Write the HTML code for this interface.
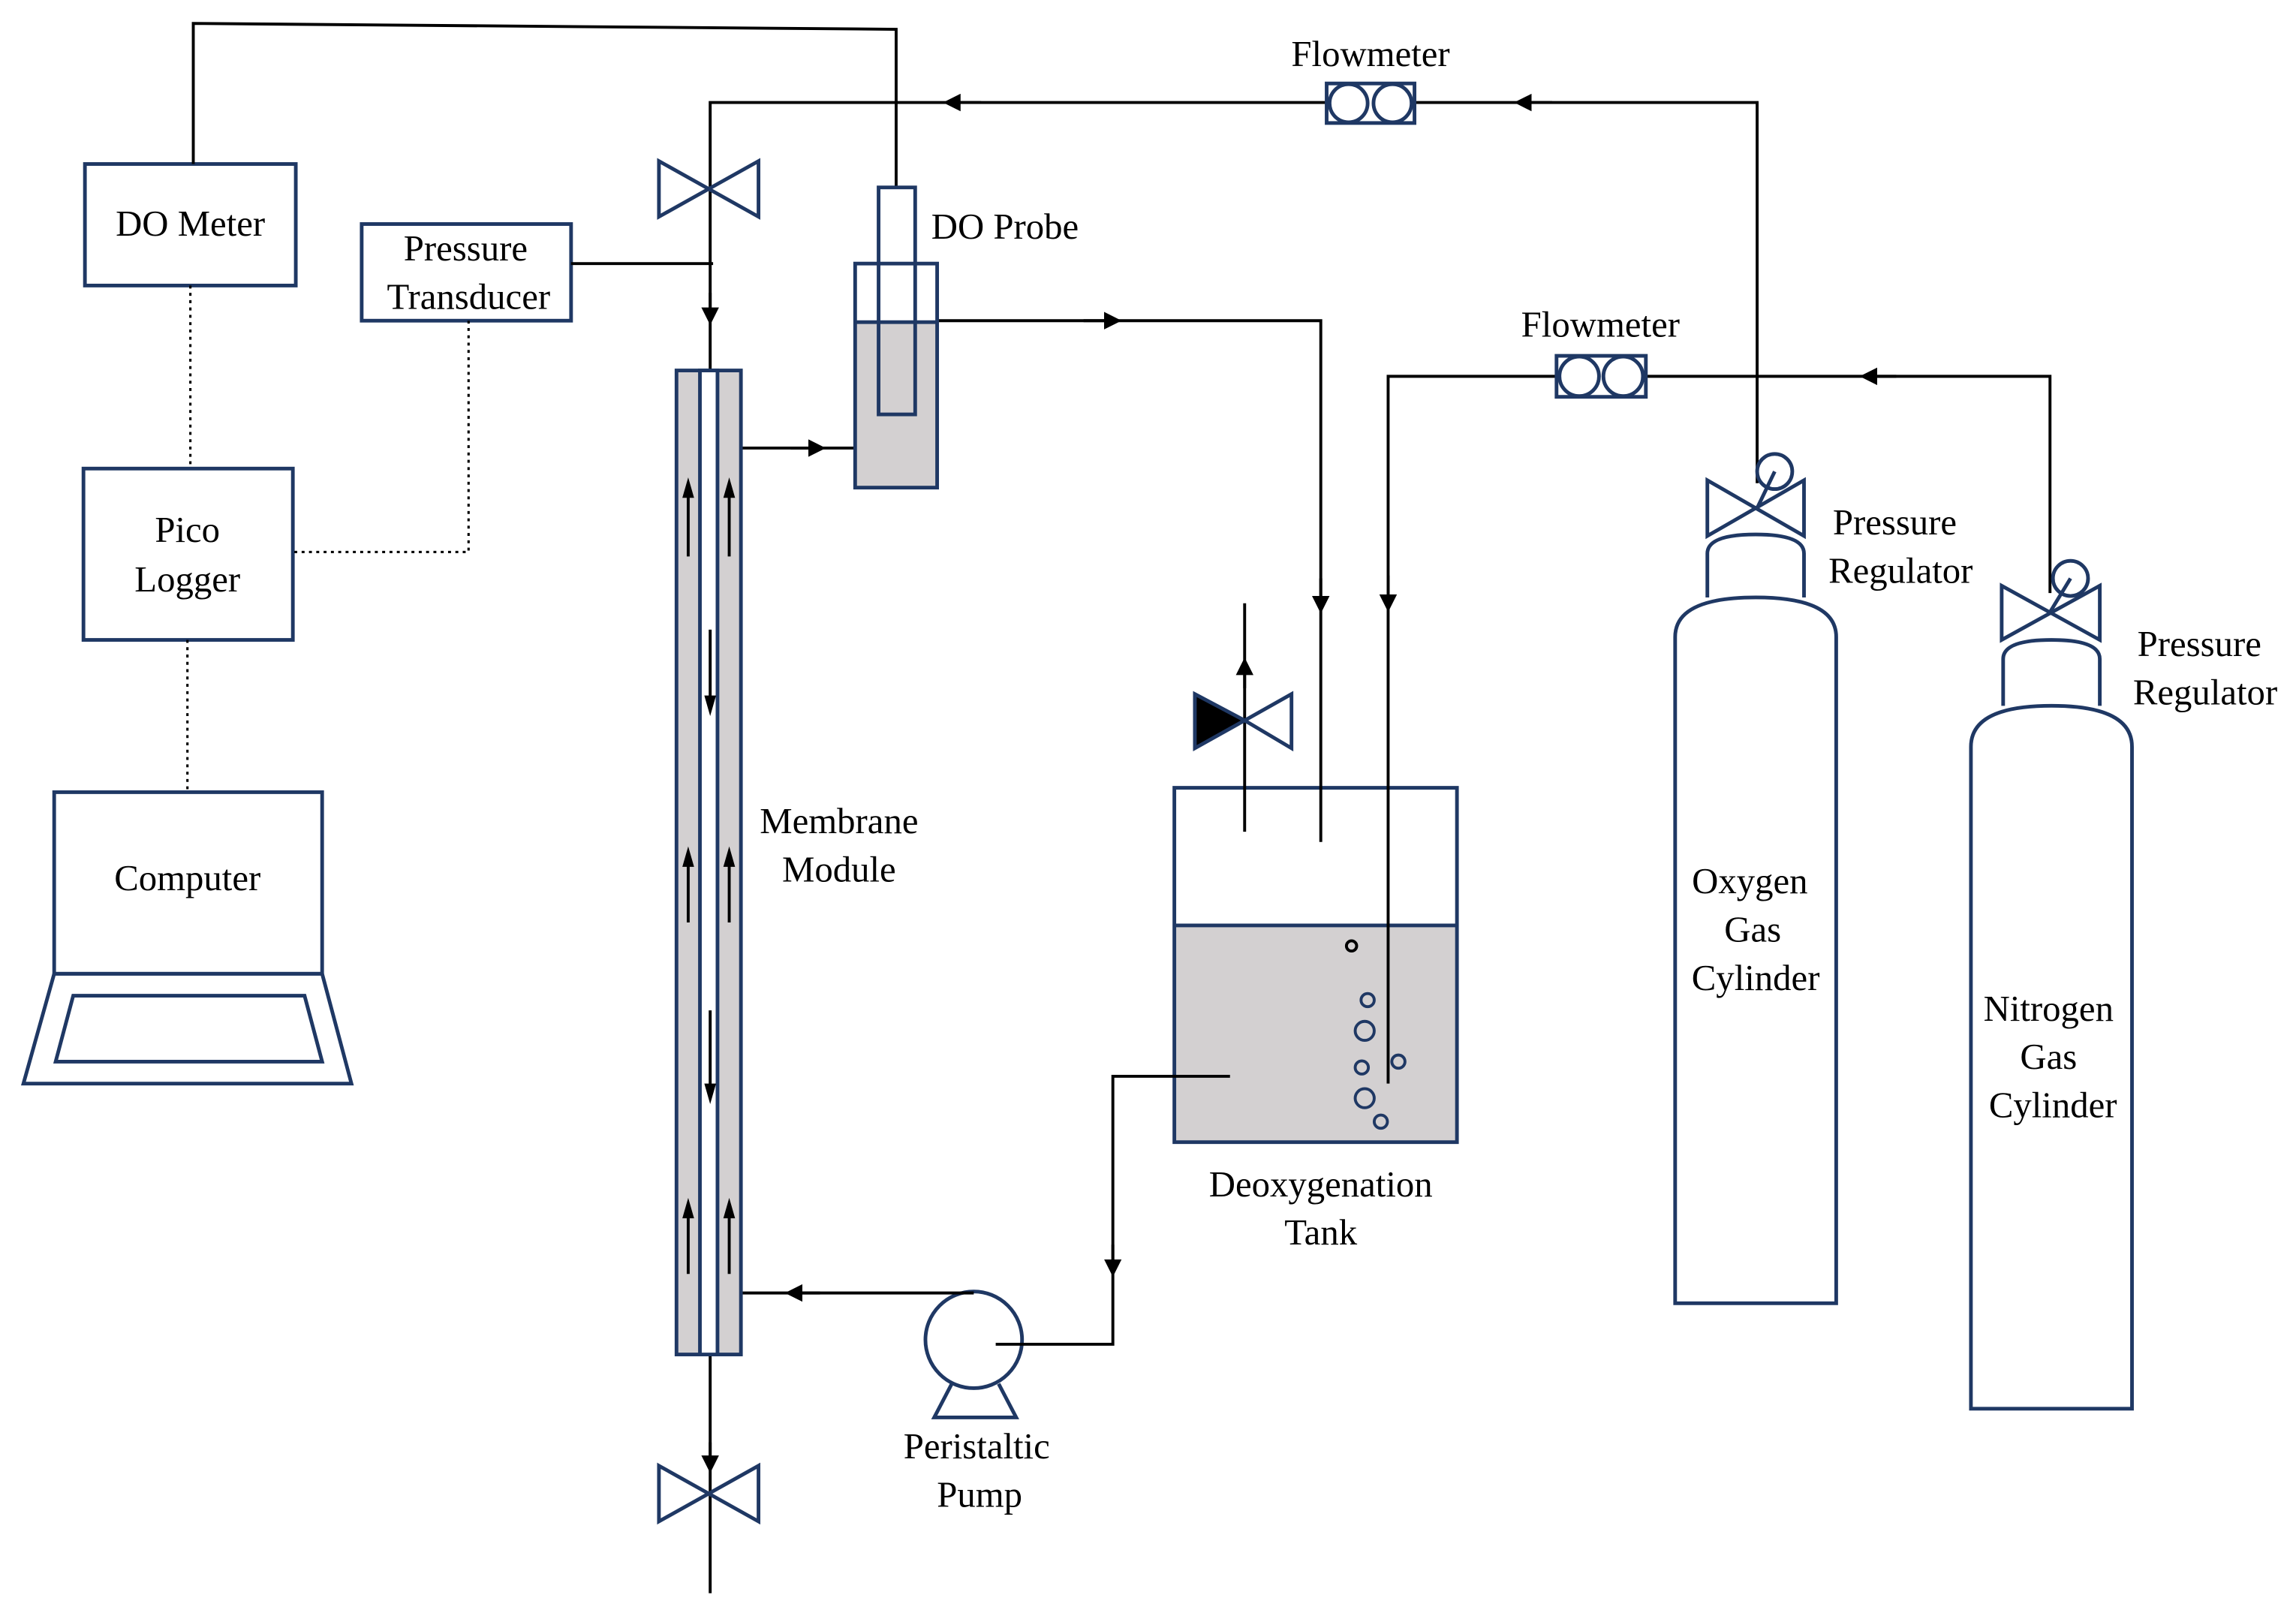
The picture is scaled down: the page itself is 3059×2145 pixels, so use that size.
<!DOCTYPE html>
<html><head><meta charset="utf-8"><style>html,body{margin:0;padding:0;background:#fff}svg{display:block}text{font-family:"Liberation Serif","Times New Roman",serif;font-size:25px;fill:#000}</style></head><body>
<svg width="3059" height="2145" viewBox="0 0 1568 1099.5" preserveAspectRatio="none" xmlns="http://www.w3.org/2000/svg">
<defs>
<marker id="a" viewBox="0 0 10 10" refX="5" refY="5" markerWidth="6" markerHeight="6" orient="auto"><path d="M0,0 L10,5 L0,10 z" fill="#000"/></marker>
</defs>
<g stroke="#1f3864" stroke-width="2.5" fill="none">
<rect x="58" y="112" width="144" height="83" fill="#fff"/>
<rect x="247" y="153" width="143" height="66" fill="#fff"/>
<rect x="57" y="320" width="143" height="117" fill="#fff"/>
<rect x="37" y="541" width="183" height="124"/>
<path d="M37,665 H220 L240,740 H16 Z M50,680 H208 L220,725 H38 Z"/>
<!-- tank -->
<rect x="802" y="632" width="193" height="148" fill="#d3d0d1" stroke="none"/>
<rect x="802" y="538" width="193" height="242"/>
<path d="M802,632 H995"/>
<g stroke-width="2"><circle cx="923" cy="646" r="3.5" stroke="#000"/><circle cx="934" cy="683" r="4.5"/><circle cx="932" cy="704" r="6.5"/><circle cx="930" cy="729" r="4.5"/><circle cx="955" cy="725" r="4.5"/><circle cx="932" cy="750" r="6.5"/><circle cx="943" cy="766" r="4.5"/></g>
<!-- pump -->
<circle cx="665" cy="915" r="33" fill="#fff"/>
<path d="M650,945 L638,968 H694 L682,945"/>
</g>
<g stroke="#000" stroke-width="2" fill="none">
<path d="M132,112 V16 L612,20 V128"/>
<path d="M390,180 H487"/>
<path d="M130,195 V320 M320,219 V377 H200 M128,437 V541" stroke-dasharray="2,3" stroke-width="1.6"/>
<path d="M1200,330 V70 H485 V253"/>
<path d="M1060,70 L1040,70" marker-end="url(#a)"/>
<path d="M670,70 L650,70" marker-end="url(#a)"/>
<path d="M485,200 L485,216" marker-end="url(#a)"/>
<path d="M640,219 H902 V575"/>
<path d="M740,219 L760,219" marker-end="url(#a)"/>
<path d="M902,395 L902,413" marker-end="url(#a)"/>
<path d="M1400,405 V257 H948 V740"/>
<path d="M1295,257 L1276,257" marker-end="url(#a)"/>
<path d="M948,393 L948,412" marker-end="url(#a)"/>
<path d="M850,568 V412"/>
<path d="M850,470 L850,455" marker-end="url(#a)"/>
<path d="M506,306 H584"/>
<path d="M540,306 L558,306" marker-end="url(#a)"/>
<path d="M840,735 H760 V918 H680"/>
<path d="M760,850 L760,866" marker-end="url(#a)"/>
<path d="M506,883 H665"/>
<path d="M560,883 L542,883" marker-end="url(#a)"/>
<path d="M485,925 V1088"/>
<path d="M485,985 L485,1000" marker-end="url(#a)"/>
</g>
<g stroke="#1f3864" stroke-width="2.5" fill="none">
<path d="M450,110 L518,148 V110 L450,148 Z" fill="#fff"/>
<path d="M450,1001 L518,1039 V1001 L450,1039 Z" fill="#fff"/>
<path d="M850,492 L882,474 V511 Z" fill="#fff"/>
<path d="M850,492 L816,474 V511 Z" fill="#000"/>
<rect x="906" y="57" width="60" height="27" fill="#fff"/><circle cx="921" cy="70.5" r="13"/><circle cx="951" cy="70.5" r="13"/>
<rect x="1063" y="243" width="61" height="28" fill="#fff"/><circle cx="1078.5" cy="257" r="13.5"/><circle cx="1108.5" cy="257" r="13.5"/>
<rect x="584" y="220" width="56" height="113" fill="#d3d0d1" stroke="none"/>
<rect x="584" y="180" width="56" height="153"/>
<path d="M584,220 H640"/>
<rect x="600" y="128" width="25" height="155"/>
<rect x="462" y="253" width="44" height="672" fill="#d3d0d1"/>
<rect x="478" y="253" width="12" height="672" fill="#fff"/>
<path d="M1144,890 V435 Q1144,408 1199,408 Q1254,408 1254,435 V890 Z" fill="#fff"/>
<path d="M1166,408 V378 Q1166,365 1199,365 Q1232,365 1232,378 V408"/>
<path d="M1166,328 L1232,366 V328 L1166,366 Z" fill="#fff"/>
<circle cx="1212" cy="322" r="12" fill="#fff"/><path d="M1200,347 L1212,322"/>
<path d="M1346,962 V510 Q1346,482 1401,482 Q1456,482 1456,510 V962 Z" fill="#fff"/>
<path d="M1368,482 V450 Q1368,437 1401,437 Q1434,437 1434,450 V482"/>
<path d="M1367,400 L1434,437 V400 L1367,437 Z" fill="#fff"/>
<circle cx="1414" cy="395" r="12" fill="#fff"/><path d="M1400,418 L1414,395"/>
</g>
<g stroke="#000" stroke-width="2" fill="none">
<path d="M470,380 V330 M498,380 V330 M470,630 V582 M498,630 V582 M470,870 V822 M498,870 V822 M485,430 V485 M485,690 V750"/>
</g>
<g fill="#000">
<path d="M466,340 L470,326 L474,340Z M494,340 L498,326 L502,340Z M466,592 L470,578 L474,592Z M494,592 L498,578 L502,592Z M466,832 L470,818 L474,832Z M494,832 L498,818 L502,832Z M481,475 L485,489 L489,475Z M481,740 L485,754 L489,740Z"/>
</g>
<g text-anchor="middle">
<text x="130" y="161">DO Meter</text>
<text x="318" y="178">Pressure</text><text x="320" y="211">Transducer</text>
<text x="128" y="370">Pico</text><text x="128" y="404">Logger</text>
<text x="128" y="608">Computer</text>
<text x="936" y="45">Flowmeter</text>
<text x="1093" y="230">Flowmeter</text>
<text x="573" y="569">Membrane</text><text x="573" y="602">Module</text>
<text x="902" y="817">Deoxygenation</text><text x="902" y="850">Tank</text>
<text x="667" y="996">Peristaltic</text><text x="669" y="1029">Pump</text>
<text x="1294" y="365">Pressure</text><text x="1298" y="398">Regulator</text>
<text x="1502" y="448">Pressure</text><text x="1506" y="481">Regulator</text>
<text x="1195" y="610">Oxygen</text><text x="1197" y="643">Gas</text><text x="1199" y="676">Cylinder</text>
<text x="1399" y="697">Nitrogen</text><text x="1399" y="730">Gas</text><text x="1402" y="763">Cylinder</text>
</g>
<text x="636" y="163">DO Probe</text>
</svg>
</body></html>
